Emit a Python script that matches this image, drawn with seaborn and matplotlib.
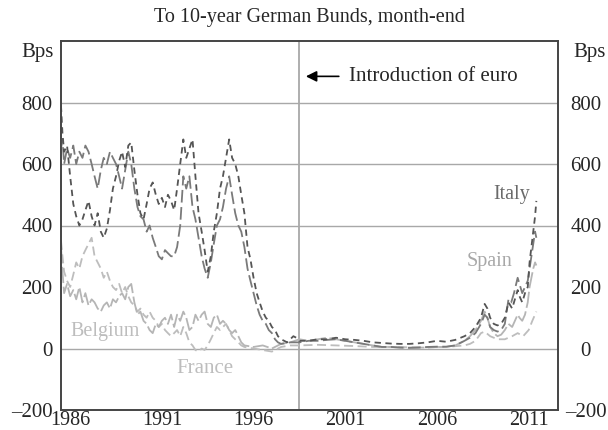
import numpy as np
import pandas as pd
import seaborn as sns
from matplotlib import pyplot as plt

# spreads to 10-year German Bunds, basis points
italy_t = [1986.00, 1986.08, 1986.17, 1986.33, 1986.50, 1986.67, 1986.83, 1987.00, 1987.17, 1987.33,
           1987.50, 1987.67, 1987.83, 1988.00, 1988.17, 1988.33, 1988.50, 1988.67, 1988.83, 1989.00,
           1989.17, 1989.33, 1989.50, 1989.67, 1989.83, 1990.00, 1990.17, 1990.33, 1990.50, 1990.67,
           1990.83, 1991.00, 1991.17, 1991.33, 1991.50, 1991.67, 1991.83, 1992.00, 1992.17, 1992.33,
           1992.50, 1992.67, 1992.83, 1993.00, 1993.17, 1993.33, 1993.50, 1993.67, 1993.83, 1994.00,
           1994.17, 1994.33, 1994.50, 1994.67, 1994.83, 1995.00, 1995.17, 1995.33, 1995.50, 1995.67,
           1995.83, 1996.00, 1996.17, 1996.33, 1996.50, 1996.67, 1996.83, 1997.00, 1997.17, 1997.33,
           1997.50, 1997.67, 1997.83, 1998.00, 1998.17, 1998.33, 1998.50, 1998.67, 1998.83, 1999.00,
           1999.50, 2000.00, 2000.50, 2001.00, 2001.50, 2002.00, 2002.50, 2003.00, 2003.50, 2004.00,
           2004.50, 2005.00, 2005.50, 2006.00, 2006.50, 2007.00, 2007.50, 2008.00, 2008.30, 2008.60,
           2008.90, 2009.10, 2009.25, 2009.40, 2009.60, 2009.80, 2010.00, 2010.20, 2010.40, 2010.60,
           2010.75, 2010.90, 2011.00, 2011.15, 2011.30, 2011.45, 2011.55, 2011.65, 2011.75, 2011.85,
           2011.92]
italy_v = [790, 700, 640, 660, 560, 470, 430, 400, 420, 450,
           480, 430, 400, 440, 380, 360, 390, 450, 520, 560,
           610, 640, 590, 660, 670, 580, 500, 440, 420, 470,
           520, 540, 500, 470, 490, 460, 500, 480, 450, 520,
           600, 680, 620, 650, 680, 560, 440, 380, 320, 250,
           300, 380, 440, 520, 560, 620, 680, 620, 600, 560,
           500, 440, 330, 290, 230, 180, 150, 120, 100, 90,
           70, 60, 40, 30, 25, 20, 30, 40, 35, 25,
           25, 30, 30, 35, 30, 28, 25, 20, 18, 16,
           15, 15, 17, 20, 25, 22, 28, 40, 50, 70,
           100, 145, 130, 100, 80, 75, 80, 100, 150, 130,
           160, 190, 170, 150, 180, 200, 280, 330, 380, 430,
           480]

spain_t = [1986.00, 1986.08, 1986.17, 1986.33, 1986.50, 1986.67, 1986.83, 1987.00, 1987.17, 1987.33,
           1987.50, 1987.67, 1987.83, 1988.00, 1988.17, 1988.33, 1988.50, 1988.67, 1988.83, 1989.00,
           1989.17, 1989.33, 1989.50, 1989.67, 1989.83, 1990.00, 1990.17, 1990.33, 1990.50, 1990.67,
           1990.83, 1991.00, 1991.17, 1991.33, 1991.50, 1991.67, 1991.83, 1992.00, 1992.17, 1992.33,
           1992.50, 1992.67, 1992.83, 1993.00, 1993.17, 1993.33, 1993.50, 1993.67, 1993.83, 1994.00,
           1994.17, 1994.33, 1994.50, 1994.67, 1994.83, 1995.00, 1995.17, 1995.33, 1995.50, 1995.67,
           1995.83, 1996.00, 1996.17, 1996.33, 1996.50, 1996.67, 1996.83, 1997.00, 1997.17, 1997.33,
           1997.50, 1997.67, 1997.83, 1998.00, 1998.50, 1999.00, 1999.50, 2000.00, 2000.50, 2001.00,
           2001.50, 2002.00, 2002.50, 2003.00, 2003.50, 2004.00, 2004.50, 2005.00, 2005.50, 2006.00,
           2006.50, 2007.00, 2007.50, 2008.00, 2008.30, 2008.60, 2008.90, 2009.10, 2009.25, 2009.40,
           2009.60, 2009.80, 2010.00, 2010.20, 2010.40, 2010.55, 2010.70, 2010.90, 2011.00, 2011.15,
           2011.30, 2011.45, 2011.55, 2011.65, 2011.75, 2011.85, 2011.92]
spain_v = [650, 680, 600, 650, 620, 660, 600, 640, 620, 660,
           640, 600, 560, 520, 580, 620, 600, 640, 620, 600,
           560, 520, 580, 640, 600, 520, 460, 430, 420, 380,
           400, 360, 330, 300, 290, 320, 310, 300, 300, 330,
           400, 560, 520, 560, 460, 420, 360, 300, 260, 230,
           280, 340, 400, 420, 460, 520, 560, 500, 440, 400,
           380, 330, 260, 220, 180, 140, 110, 90, 80, 60,
           50, 30, 20, 15, 20, 20, 25, 25, 28, 30,
           25, 20, 15, 10, 5, 5, 3, 2, 3, 5,
           6, 6, 10, 25, 35, 50, 80, 110, 100, 70,
           60, 55, 60, 80, 160, 150, 180, 230, 210, 180,
           200, 220, 260, 300, 340, 380, 360]

belgium_t = [1986.00, 1986.08, 1986.17, 1986.33, 1986.50, 1986.67, 1986.83, 1987.00, 1987.17, 1987.33,
             1987.50, 1987.67, 1987.83, 1988.00, 1988.17, 1988.33, 1988.50, 1988.67, 1988.83, 1989.00,
             1989.17, 1989.33, 1989.50, 1989.67, 1989.83, 1990.00, 1990.17, 1990.33, 1990.50, 1990.67,
             1990.83, 1991.00, 1991.17, 1991.33, 1991.50, 1991.67, 1991.83, 1992.00, 1992.17, 1992.33,
             1992.50, 1992.67, 1992.83, 1993.00, 1993.17, 1993.33, 1993.50, 1993.67, 1993.83, 1994.00,
             1994.17, 1994.33, 1994.50, 1994.67, 1994.83, 1995.00, 1995.17, 1995.33, 1995.50, 1995.67,
             1995.83, 1996.00, 1996.50, 1997.00, 1997.50, 1998.00, 1998.50, 1999.00, 1999.50, 2000.00,
             2000.50, 2001.00, 2001.50, 2002.00, 2002.50, 2003.00, 2003.50, 2004.00, 2004.50, 2005.00,
             2005.50, 2006.00, 2006.50, 2007.00, 2007.50, 2008.00, 2008.30, 2008.60, 2008.90, 2009.10,
             2009.25, 2009.40, 2009.60, 2009.80, 2010.00, 2010.20, 2010.40, 2010.60, 2010.75, 2010.90,
             2011.00, 2011.15, 2011.30, 2011.45, 2011.55, 2011.65, 2011.75, 2011.85, 2011.92]
belgium_v = [330, 250, 180, 210, 170, 190, 160, 200, 150, 180,
             140, 160, 150, 130, 120, 140, 150, 130, 160, 150,
             170, 180, 160, 200, 210, 150, 110, 120, 90, 80,
             60, 50, 80, 70, 90, 100, 80, 110, 70, 110,
             90, 120, 100, 60, 70, 110, 90, 110, 120, 80,
             70, 100, 110, 80, 90, 80, 60, 50, 60, 40,
             20, 10, 5, 10, 0, 15, 20, 30, 25, 30,
             35, 30, 25, 20, 15, 10, 5, 5, 3, 3,
             3, 3, 5, 5, 10, 25, 40, 60, 90, 120,
             100, 70, 50, 40, 45, 60, 80, 70, 90, 110,
             100, 90, 110, 150, 200, 230, 260, 280, 270]

france_t = [1986.00, 1986.08, 1986.17, 1986.33, 1986.50, 1986.67, 1986.83, 1987.00, 1987.17, 1987.33,
            1987.50, 1987.67, 1987.83, 1988.00, 1988.17, 1988.33, 1988.50, 1988.67, 1988.83, 1989.00,
            1989.17, 1989.33, 1989.50, 1989.67, 1989.83, 1990.00, 1990.17, 1990.33, 1990.50, 1990.67,
            1990.83, 1991.00, 1991.17, 1991.33, 1991.50, 1991.67, 1991.83, 1992.00, 1992.17, 1992.33,
            1992.50, 1992.67, 1992.83, 1993.00, 1993.17, 1993.33, 1993.50, 1993.67, 1993.83, 1994.00,
            1994.17, 1994.33, 1994.50, 1994.67, 1994.83, 1995.00, 1995.17, 1995.33, 1995.50, 1995.67,
            1995.83, 1996.00, 1996.50, 1997.00, 1997.50, 1998.00, 1998.50, 1999.00, 2000.00, 2001.00,
            2002.00, 2003.00, 2004.00, 2005.00, 2006.00, 2007.00, 2008.00, 2008.30, 2008.60, 2008.90,
            2009.10, 2009.40, 2009.80, 2010.20, 2010.60, 2010.90, 2011.20, 2011.50, 2011.70, 2011.92]
france_v = [350, 300, 250, 220, 200, 240, 280, 260, 300, 320,
            340, 360, 300, 280, 260, 230, 250, 220, 200, 190,
            210, 180, 200, 170, 150, 140, 120, 130, 110, 100,
            120, 100, 90, 70, 80, 60, 50, 40, 50, 60,
            40, 70, 50, 20, 10, -5, -10, 0, -5, 10,
            30, 50, 70, 60, 70, 80, 60, 40, 30, 20,
            10, 5, 0, -5, -10, 5, 10, 10, 12, 10,
            8, 5, 5, 4, 4, 5, 10, 15, 25, 50,
            55, 40, 30, 30, 40, 50, 40, 60, 90, 120]

label_years = [1986, 1991, 1996, 2001, 2006, 2011]
ytick_vals = [-200, 0, 200, 400, 600, 800]
grid_vals = [0, 400, 600, 800]
euro_year = 1999.0

sns.set_style('white')
plt.rcParams['font.family'] = ['Liberation Serif', 'DejaVu Serif']

fig = plt.figure(figsize=(6.08, 4.30), dpi=100)
ax = fig.add_axes([61 / 608, 20 / 430, 497 / 608, 369 / 430])

for g in grid_vals:
    ax.axhline(g, color='#a8a8a8', lw=1, zorder=1)
ax.axvline(euro_year, color='#a8a8a8', lw=1.3, zorder=1)

sns.lineplot(x=france_t, y=france_v, ax=ax, color='#bdbdbd', lw=1.3,
             linestyle=(0, (5, 2.5)), estimator=None, zorder=2)
sns.lineplot(x=belgium_t, y=belgium_v, ax=ax, color='#b5b5b5', lw=1.3,
             linestyle=(0, (9, 2)), estimator=None, zorder=2)
sns.lineplot(x=spain_t, y=spain_v, ax=ax, color='#7a7a7a', lw=1.3,
             linestyle=(0, (7, 2.5)), estimator=None, zorder=3)
sns.lineplot(x=italy_t, y=italy_v, ax=ax, color='#555555', lw=1.3,
             linestyle=(0, (3.5, 2.5)), estimator=None, zorder=4)

ax.set_xlim(1986, 2013.1)
ax.set_ylim(-200, 1000)

ylabels = [str(v).replace('-', '\u2013') for v in ytick_vals]

# year ticks on the bottom, labels sit in the middle of the year
ax.set_xticks(range(1987, 2014))
ax.set_xticklabels([])
ax.set_xticks([y + 0.5 for y in label_years], minor=True)
ax.set_xticklabels([str(y) for y in label_years], minor=True, fontsize=14.5)
ax.tick_params(axis='x', which='major', direction='in', length=5, width=1, color='#444444')
ax.tick_params(axis='x', which='minor', length=0, pad=1)

ax.set_yticks(ytick_vals)
ax.set_yticklabels(ylabels, fontsize=15)
ax.tick_params(axis='y', length=0, pad=6)
ax.set_xlabel('')
ax.set_ylabel('')

ax2 = ax.twinx()
ax2.set_ylim(ax.get_ylim())
ax2.set_yticks(ytick_vals)
ax2.set_yticklabels(ylabels, fontsize=15)
ax2.tick_params(axis='y', length=0, pad=20)
for t in ax2.get_yticklabels():
    t.set_horizontalalignment('center')

for a in (ax, ax2):
    for s in a.spines.values():
        s.set_color('#444444')
        s.set_linewidth(1.2)

ax.text(-0.014, 0.995, 'Bps', transform=ax.transAxes, ha='right', va='top', fontsize=15)
ax.text(1.03, 0.995, 'Bps', transform=ax.transAxes, ha='left', va='top', fontsize=15)
ax.set_title('To 10-year German Bunds, month-end', fontsize=14.5, pad=14)

ax.annotate('', xy=(1999.2, 885), xytext=(2001.3, 885),
            arrowprops=dict(arrowstyle='-|>', color='black', lw=1.2, mutation_scale=16))
ax.text(2001.7, 885, 'Introduction of euro', ha='left', va='center', fontsize=15)

ax.text(2011.6, 500, 'Italy', color='#6a6a6a', ha='right', va='center', fontsize=14.5)
ax.text(2010.6, 283, 'Spain', color='#a8a8a8', ha='right', va='center', fontsize=14.5)
ax.text(1986.5, 55, 'Belgium', color='#bdbdbd', ha='left', va='center', fontsize=14.5)
ax.text(1992.3, -65, 'France', color='#bdbdbd', ha='left', va='center', fontsize=15)

fig.savefig('out.png', dpi=100)
